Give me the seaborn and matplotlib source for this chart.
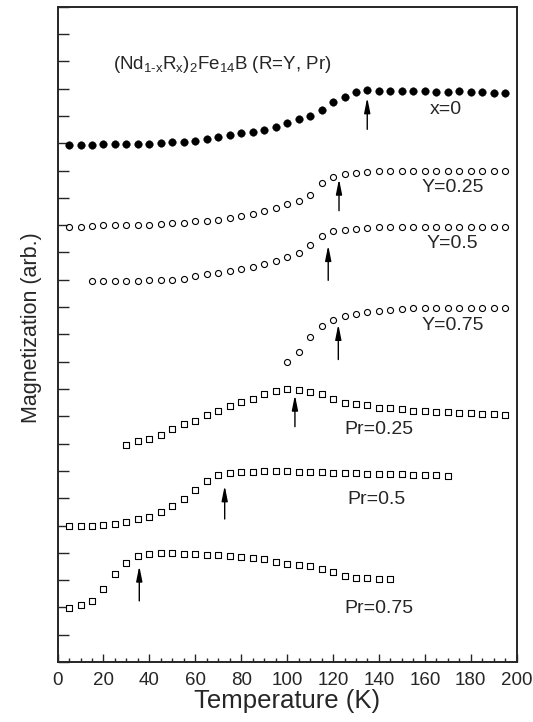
import numpy as np
import pandas as pd
import seaborn as sns
import matplotlib.pyplot as plt
from matplotlib.ticker import MultipleLocator

# Data (y in tick units, arbitrary)
T_x0 = [5, 10, 15, 20, 25, 30, 35, 40, 45, 50, 55, 60, 65, 70, 75, 80, 85, 90, 95, 100,
        105, 110, 115, 120, 125, 130, 135, 140, 145, 150, 155, 160, 165, 170, 175, 180, 185, 190, 195]
M_x0 = [18.94, 18.94, 18.95, 18.96, 18.96, 18.97, 18.98, 18.99, 19.02, 19.04,
        19.05, 19.10, 19.16, 19.22, 19.31, 19.37, 19.42, 19.50, 19.60, 19.74,
        19.88, 20.01, 20.21, 20.51, 20.70, 20.89, 20.94, 20.93, 20.93, 20.93,
        20.91, 20.91, 20.89, 20.89, 20.91, 20.89, 20.89, 20.85, 20.83]

T_y25 = T_x0
M_y25 = [15.92, 15.95, 15.96, 15.99, 15.99, 15.99, 16.00, 16.02, 16.05, 16.07,
         16.09, 16.14, 16.17, 16.20, 16.28, 16.34, 16.41, 16.51, 16.64, 16.79,
         16.90, 17.12, 17.53, 17.75, 17.87, 17.92, 17.96,
         17.97, 17.98, 17.98, 17.98, 17.98, 17.98, 17.98, 17.98, 17.98, 17.98, 17.98, 17.98]

T_y50 = [15, 20, 25, 30, 35, 40, 45, 50, 55, 60, 65, 70, 75, 80, 85, 90, 95, 100, 105, 110,
         115, 120, 125, 130, 135, 140, 145, 150, 155, 160, 165, 170, 175, 180, 185, 190, 195]
M_y50 = [13.94, 13.94, 13.94, 13.94, 13.95, 13.98, 13.99, 14.01, 14.04, 14.15,
         14.20, 14.24, 14.31, 14.38, 14.46, 14.56, 14.67, 14.82, 14.98, 15.28,
         15.62, 15.78, 15.84, 15.86, 15.90,
         15.92, 15.92, 15.92, 15.92, 15.92, 15.92, 15.92, 15.92, 15.92, 15.92, 15.92, 15.92]

T_y75 = [100, 105, 110, 115, 120, 125, 130, 135, 140, 145, 150, 155, 160, 165, 170, 175, 180, 185, 190, 195]
M_y75 = [11.00, 11.34, 11.91, 12.30, 12.54, 12.66, 12.76, 12.82, 12.87, 12.91,
         12.93, 12.96, 12.97, 12.97, 12.97, 12.97, 12.97, 12.97, 12.97, 12.97]

T_pr25 = [30, 35, 40, 45, 50, 55, 60, 65, 70, 75, 80, 85, 90, 95, 100, 105, 110, 115, 120, 125,
          130, 135, 140, 145, 150, 155, 160, 165, 170, 175, 180, 185, 190, 195]
M_pr25 = [7.96, 8.08, 8.16, 8.32, 8.54, 8.71, 8.84, 9.03, 9.20, 9.36,
          9.54, 9.65, 9.81, 9.93, 10.00, 9.96, 9.90, 9.82, 9.62, 9.48,
          9.45, 9.43, 9.29, 9.29, 9.27, 9.21, 9.20, 9.17, 9.15, 9.12,
          9.11, 9.09, 9.08, 9.05]

T_pr50 = [5, 10, 15, 20, 25, 30, 35, 40, 45, 50, 55, 60, 65, 70, 75, 80, 85, 90, 95, 100,
          105, 110, 115, 120, 125, 130, 135, 140, 145, 150, 155, 160, 165, 170]
M_pr50 = [4.97, 4.97, 4.97, 5.01, 5.06, 5.13, 5.24, 5.33, 5.49, 5.71,
          5.97, 6.29, 6.62, 6.84, 6.92, 6.96, 6.97, 7.00, 7.00, 6.98,
          6.97, 6.96, 6.95, 6.93, 6.92, 6.91, 6.90, 6.90, 6.89, 6.87,
          6.86, 6.85, 6.84, 6.82]

T_pr75 = [5, 10, 15, 20, 25, 30, 35, 40, 45, 50, 55, 60, 65, 70, 75, 80, 85, 90, 95, 100,
          105, 110, 115, 120, 125, 130, 135, 140, 145]
M_pr75 = [1.97, 2.08, 2.24, 2.66, 3.21, 3.64, 3.88, 3.94, 3.98, 3.98,
          3.97, 3.95, 3.93, 3.91, 3.87, 3.83, 3.80, 3.76, 3.67, 3.60,
          3.54, 3.52, 3.42, 3.30, 3.15, 3.07, 3.07, 3.05, 3.05]

labels = ["x=0", "Y=0.25", "Y=0.5", "Y=0.75", "Pr=0.25", "Pr=0.5", "Pr=0.75"]
# transition temperatures marked by arrows, with arrow tail / head heights
arrow_T = [134.9, 122.6, 117.9, 122.3, 103.4, 72.8, 35.6]
arrow_tail = [19.51, 16.53, 13.98, 11.08, 8.62, 5.24, 2.24]
arrow_head = [20.67, 17.69, 15.26, 12.37, 9.78, 6.46, 3.52]
label_T = [169, 172, 172, 172, 140, 139, 140]
label_y = [20.25, 17.37, 15.33, 12.34, 8.50, 5.95, 1.97]

series = [(T_x0, M_x0), (T_y25, M_y25), (T_y50, M_y50), (T_y75, M_y75),
          (T_pr25, M_pr25), (T_pr50, M_pr50), (T_pr75, M_pr75)]
markers = ["o", "o", "o", "o", "s", "s", "s"]
filled = [True, False, False, False, False, False, False]
sizes = [30, 19, 19, 19, 17, 17, 17]

sns.set_style("ticks")
plt.rcParams['font.family'] = ['Liberation Sans', 'DejaVu Sans']
plt.rcParams['mathtext.fontset'] = 'custom'
plt.rcParams['mathtext.rm'] = 'Liberation Sans'
plt.rcParams['mathtext.it'] = 'Liberation Sans'

fig = plt.figure(figsize=(5.33, 7.22), dpi=100)
ax = fig.add_axes([0.108, 0.083, 0.8614, 0.9077])

for (T, M), mk, fl, sz in zip(series, markers, filled, sizes):
    df = pd.DataFrame({"T": T, "M": M})
    sns.scatterplot(data=df, x="T", y="M", ax=ax, marker=mk, s=sz,
                    facecolor="black" if fl else "white", edgecolor="black",
                    linewidth=0.3 if fl else 0.8, zorder=3, legend=False)

for t, y0, y1 in zip(arrow_T, arrow_tail, arrow_head):
    ax.annotate("", xy=(t, y1), xytext=(t, y0),
                arrowprops=dict(arrowstyle="-|>,head_length=0.9,head_width=0.18",
                                color="black", lw=1.0, shrinkA=0, shrinkB=0))

for lab, t, y in zip(labels, label_T, label_y):
    ax.text(t, y, lab, fontsize=14, ha="center", va="center")

ax.text(24, 21.9, r"(Nd$_{\mathrm{1\text{-}x}}$R$_{\mathrm{x}}$)$_{\mathrm{2}}$Fe$_{\mathrm{14}}$B (R=Y, Pr)",
        fontsize=13.5, ha="left", va="center")

ax.set_xlim(0, 200)
ax.set_ylim(0, 24)
ax.xaxis.set_major_locator(MultipleLocator(20))
ax.xaxis.set_minor_locator(MultipleLocator(5))
ax.yaxis.set_major_locator(MultipleLocator(1))
ax.set_yticklabels([])
ax.tick_params(axis="x", which="major", direction="in", length=6, width=1.0,
               labelsize=13.5, pad=7, top=False)
ax.tick_params(axis="x", which="minor", direction="in", length=3, width=1.0, top=False)
ax.tick_params(axis="y", which="major", direction="in", length=8, width=1.0, right=False)
for sp in ax.spines.values():
    sp.set_linewidth(1.4)
    sp.set_visible(True)

ax.set_xlabel("Temperature (K)", fontsize=18.5, labelpad=0)
ax.set_ylabel("Magnetization (arb.)", fontsize=15.5)
ax.yaxis.set_label_coords(-0.034, 0.51)

fig.savefig("out.png", dpi=100)
